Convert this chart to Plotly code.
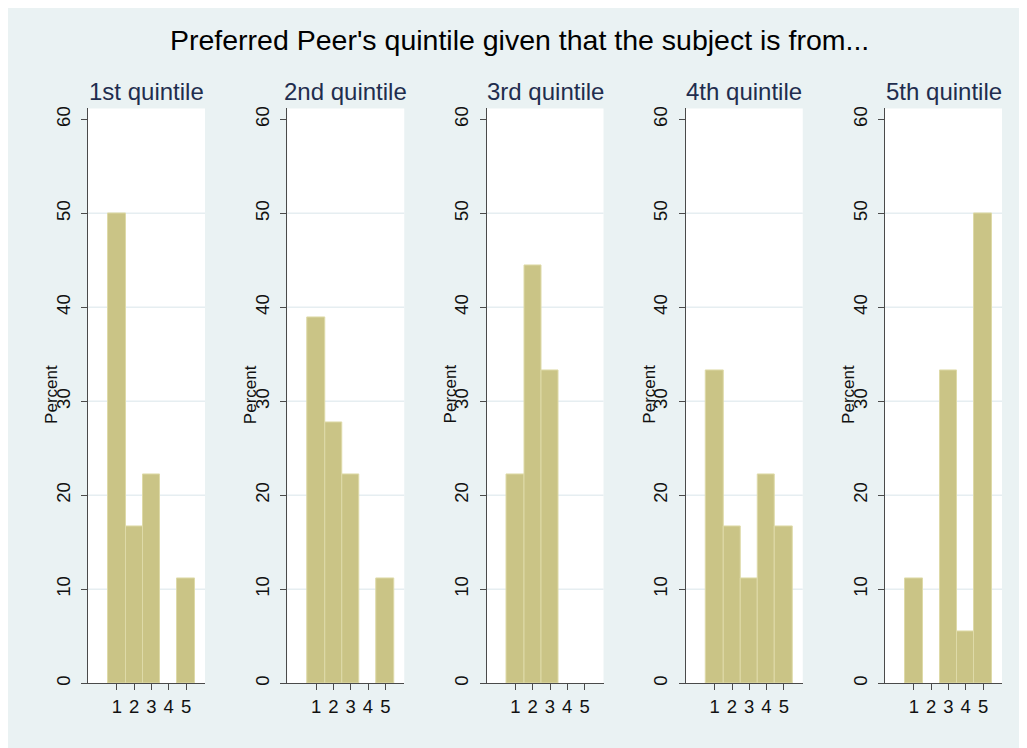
import plotly.graph_objects as go

# page has an 8px body margin; build figure in reference pixels minus that offset
OFF = 8
W, H = 1027 - OFF, 748 - OFF

main_title = "Preferred Peer's quintile given that the subject is from..."
panel_titles = ["1st quintile", "2nd quintile", "3rd quintile", "4th quintile", "5th quintile"]
categories = [1, 2, 3, 4, 5]
percent_q1 = [50.0, 16.67, 22.22, 0.0, 11.11]
percent_q2 = [38.89, 27.78, 22.22, 0.0, 11.11]
percent_q3 = [22.22, 44.44, 33.33, 0.0, 0.0]
percent_q4 = [33.33, 16.67, 11.11, 22.22, 16.67]
percent_q5 = [11.11, 0.0, 33.33, 5.56, 50.0]
series = [percent_q1, percent_q2, percent_q3, percent_q4, percent_q5]
y_ticks = [0, 10, 20, 30, 40, 50, 60]
grid_vals = [10, 20, 30, 40, 50]

FONT = "Liberation Sans, Arial, sans-serif"
BG = "#EAF2F3"
BAR = "#CAC486"
BAR_LINE = "#DEDAA8"
AXIS = "#4A4A4A"
GRID = "#E6EEF1"
TITLE_C = "#1F2D4E"

fig = go.Figure()

left0, pw, step = 88, 117, 199.25
top_px, bot_px = 107, 685

def px_x(p):
    return (p - OFF) / W

def px_y(p):
    return 1 - (p - OFF) / H

for i, vals in enumerate(series):
    n = i + 1
    xa = "x" if n == 1 else f"x{n}"
    ya = "y" if n == 1 else f"y{n}"
    fig.add_trace(go.Bar(
        x=categories, y=vals, width=1.0,
        marker=dict(color=BAR, line=dict(color=BAR_LINE,
                                         width=[1 if v > 0 else 0 for v in vals])),
        xaxis=xa, yaxis=ya, showlegend=False, hoverinfo="skip",
    ))
    l = left0 + step * i
    r = l + pw
    xkey = "xaxis" if n == 1 else f"xaxis{n}"
    ykey = "yaxis" if n == 1 else f"yaxis{n}"
    fig.layout[xkey] = dict(
        domain=[px_x(l), px_x(r)], range=[-0.68, 6.1], anchor=ya,
        tickvals=categories, ticks="outside", ticklen=6, tickcolor=AXIS,
        showline=True, linecolor=AXIS, linewidth=1, showgrid=False, zeroline=False,
        tickfont=dict(family=FONT, size=18.5, color="#111111"), fixedrange=True,
    )
    fig.layout[ykey] = dict(
        domain=[px_y(bot_px), px_y(top_px)], range=[0, 61.16], anchor=xa,
        tickvals=y_ticks, ticks="outside", ticklen=6, tickcolor=AXIS,
        showline=True, linecolor=AXIS, linewidth=1, showgrid=False, zeroline=False,
        tickangle=-90, ticklabelstandoff=4,
        tickfont=dict(family=FONT, size=18.5, color="#111111"), fixedrange=True,
    )
    for g in grid_vals:
        fig.add_shape(type="line", xref=f"{xa} domain", yref=ya,
                      x0=0, x1=1, y0=g, y1=g, line=dict(color=GRID, width=1.5), layer="below")
    fig.add_annotation(text=panel_titles[i], xref="paper", yref="paper",
                       x=px_x((l + r) / 2), y=px_y(90), xanchor="center", yanchor="middle",
                       showarrow=False, font=dict(family=FONT, size=24, color=TITLE_C))
    fig.add_annotation(text="Percent", xref="paper", yref="paper",
                       x=px_x(l - 36.5), y=px_y(394.5), xanchor="center", yanchor="middle",
                       textangle=-90, showarrow=False,
                       font=dict(family=FONT, size=17, color="#111111"))

fig.add_annotation(text=main_title, xref="paper", yref="paper",
                   x=px_x(520), y=px_y(38), xanchor="center", yanchor="middle",
                   showarrow=False, font=dict(family=FONT, size=28.5, color="#000000"))

fig.update_layout(
    width=W, height=H, margin=dict(l=0, r=0, t=0, b=0),
    paper_bgcolor=BG, plot_bgcolor="white", bargap=0,
    font=dict(family=FONT),
)

fig.write_html("out.html")
